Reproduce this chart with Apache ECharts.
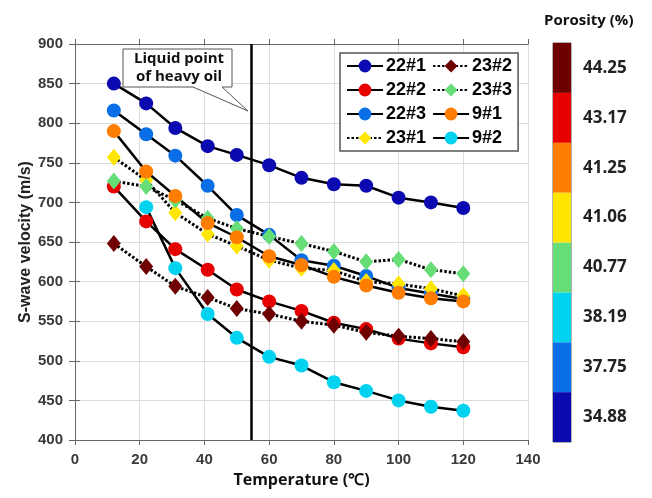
<!DOCTYPE html>
<html>
<head>
<meta charset="utf-8">
<script src="https://cdn.jsdelivr.net/npm/echarts@6/dist/echarts.min.js"></script>
<style>html,body{margin:0;padding:0;background:#fff;}#chart{width:652px;height:498px;}</style>
</head>
<body>
<div id="chart"></div>
<script>
const temperatures = [12, 22, 31, 41, 50, 60, 70, 80, 90, 100, 110, 120];
const s22_1 = [850, 825, 794, 771, 760, 747, 731, 723, 721, 706, 700, 693];
const s22_2 = [720, 676, 641, 615, 590, 575, 563, 548, 540, 528, 522, 517];
const s22_3 = [816, 786, 759, 721, 684, 659, 627, 620, 607, 592, 585, 578];
const s23_1 = [757, 728, 687, 660, 645, 627, 617, 614, 600, 597, 591, 582];
const s23_2 = [648, 619, 594, 580, 566, 559, 550, 545, 536, 531, 528, 524];
const s23_3 = [727, 720, 703, 680, 667, 657, 648, 638, 625, 628, 615, 610];
const s9_1  = [790, 739, 708, 674, 656, 632, 621, 606, 595, 586, 579, 575];
const s9_2  = [null, 694, 617, 559, 529, 505, 494, 473, 462, 450, 442, 437];
const seriesNames = ['22#1', '22#2', '22#3', '23#1', '23#2', '23#3', '9#1', '9#2'];
const porosityLabels = ['34.88', '37.75', '38.19', '40.77', '41.06', '41.25', '43.17', '44.25'];
const liquidPoint = 54.5;

const colors = {
  '22#1': '#0a0ab0', '22#2': '#e60000', '22#3': '#0a6ee6', '23#1': '#ffe600',
  '23#2': '#6e0000', '23#3': '#66dd77', '9#1': '#ff7d00', '9#2': '#00d2f0'
};
const porosityColors = ['#0a0ab0', '#0a6ee6', '#00d2f0', '#66dd77', '#ffe600', '#ff7d00', '#e60000', '#6e0000'];
const dataMap = {'22#1': s22_1, '22#2': s22_2, '22#3': s22_3, '23#1': s23_1, '23#2': s23_2, '23#3': s23_3, '9#1': s9_1, '9#2': s9_2};
const diamonds = {'23#1': 1, '23#2': 1, '23#3': 1};

const chart = echarts.init(document.getElementById('chart'), null, {renderer: 'canvas'});
const tickFont = {fontFamily: 'Liberation Sans', fontWeight: 'bold', fontSize: 15, color: '#3a3a3a'};
const axisLineStyle = {lineStyle: {color: '#666', width: 1}};

const series = seriesNames.map(function (name, i) {
  const isD = !!diamonds[name];
  const s = {
    name: name, type: 'line', xAxisIndex: 0, yAxisIndex: 0,
    data: temperatures.map(function (t, k) { return [t, dataMap[name][k]]; }).filter(function (p) { return p[1] !== null; }),
    symbol: isD ? 'diamond' : 'circle',
    symbolSize: isD ? [14, 17] : 14,
    showAllSymbol: true,
    itemStyle: {color: colors[name], borderWidth: 0},
    lineStyle: {color: '#000', width: isD ? 3 : 2.5, type: isD ? [2.5, 2] : 'solid'},
    emphasis: {disabled: true},
    animation: false
  };
  if (i === 0) {
    s.markLine = {
      silent: true, symbol: ['none', 'none'], label: {show: false},
      lineStyle: {color: '#000', width: 2.5, type: 'solid'},
      data: [{xAxis: liquidPoint}]
    };
  }
  return s;
});

series.push({
  type: 'bar', xAxisIndex: 2, yAxisIndex: 2, silent: true, animation: false,
  barWidth: '100%', barCategoryGap: '0%',
  data: porosityLabels.map(function (l, k) { return {value: 1, itemStyle: {color: porosityColors[k]}}; })
});

chart.setOption({
  backgroundColor: '#fff',
  animation: false,
  title: {text: 'Porosity (%)', left: 539, top: 8, textStyle: {fontFamily: 'Open Sans', fontWeight: 'bold', fontSize: 15, color: '#111'}},
  grid: [
    {left: 75, right: 124, top: 44, bottom: 58},
    {left: 553, width: 18, top: 43, height: 399, show: true, borderColor: '#666', borderWidth: 1, backgroundColor: 'transparent'}
  ],
  legend: {
    data: seriesNames, orient: 'vertical', left: 340, top: 53, height: 96,
    itemWidth: 36, itemHeight: 16, itemGap: 6,
    padding: [4, 6, 4, 6], borderColor: '#555', borderWidth: 1.5, backgroundColor: '#fff',
    textStyle: {fontFamily: 'Liberation Sans', fontWeight: 'bold', fontSize: 18, lineHeight: 18, color: '#000', padding: [0, 0, 0, -2]},
    selectedMode: false
  },
  xAxis: [
    {type: 'value', gridIndex: 0, min: 0, max: 140, interval: 20, position: 'bottom',
     name: 'Temperature (℃)', nameLocation: 'middle', nameGap: 32, nameMoveOverlap: false,
     nameTextStyle: {fontFamily: 'Open Sans', fontWeight: 'bold', fontSize: 16, color: '#111'},
     axisLine: axisLineStyle, axisTick: {show: true, length: 5, lineStyle: {color: '#666'}},
     axisLabel: Object.assign({margin: 12}, tickFont),
     splitLine: {show: true, lineStyle: {color: '#dcdcdc', width: 1}}},
    {type: 'value', gridIndex: 0, min: 0, max: 140, interval: 20, position: 'top',
     axisLine: axisLineStyle, axisTick: {show: true, length: 5, lineStyle: {color: '#666'}},
     axisLabel: {show: false}, splitLine: {show: false}},
    {type: 'value', gridIndex: 1, min: 0, max: 1, show: false}
  ],
  yAxis: [
    {type: 'value', gridIndex: 0, min: 400, max: 900, interval: 50, position: 'left',
     name: 'S-wave velocity (m/s)', nameLocation: 'middle', nameGap: 41, nameMoveOverlap: false,
     nameTextStyle: {fontFamily: 'Liberation Sans', fontWeight: 700, fontSize: 16, color: '#222'},
     axisLine: Object.assign({show: true}, axisLineStyle), axisTick: {show: true, length: 6, lineStyle: {color: '#666'}},
     axisLabel: Object.assign({margin: 12}, tickFont),
     splitLine: {show: true, lineStyle: {color: '#dcdcdc', width: 1}}},
    {type: 'value', gridIndex: 0, min: 400, max: 900, interval: 50, position: 'right',
     axisLine: Object.assign({show: true}, axisLineStyle), axisTick: {show: true, length: 5, lineStyle: {color: '#666'}},
     axisLabel: {show: false}, splitLine: {show: false}},
    {type: 'category', gridIndex: 1, data: porosityLabels, position: 'right',
     axisLine: {show: false}, axisTick: {show: false},
     axisLabel: {margin: 12, fontFamily: 'Open Sans', fontWeight: 'bold', fontSize: 17, color: '#222'}}
  ],
  graphic: [
    {type: 'polygon', z: 100,
     shape: {points: [[123, 49], [232, 49], [232, 87], [222, 87], [248, 111], [193, 87], [123, 87]]},
     style: {fill: '#fff', stroke: '#555', lineWidth: 1}},
    {type: 'text', z: 101, left: 134, top: 50,
     style: {text: 'Liquid point\nof heavy oil', fontFamily: 'Open Sans', fontWeight: 'bold', fontSize: 15, lineHeight: 18, fill: '#111', textAlign: 'center', width: 90}}
  ],
  series: series
});
</script>
</body>
</html>
